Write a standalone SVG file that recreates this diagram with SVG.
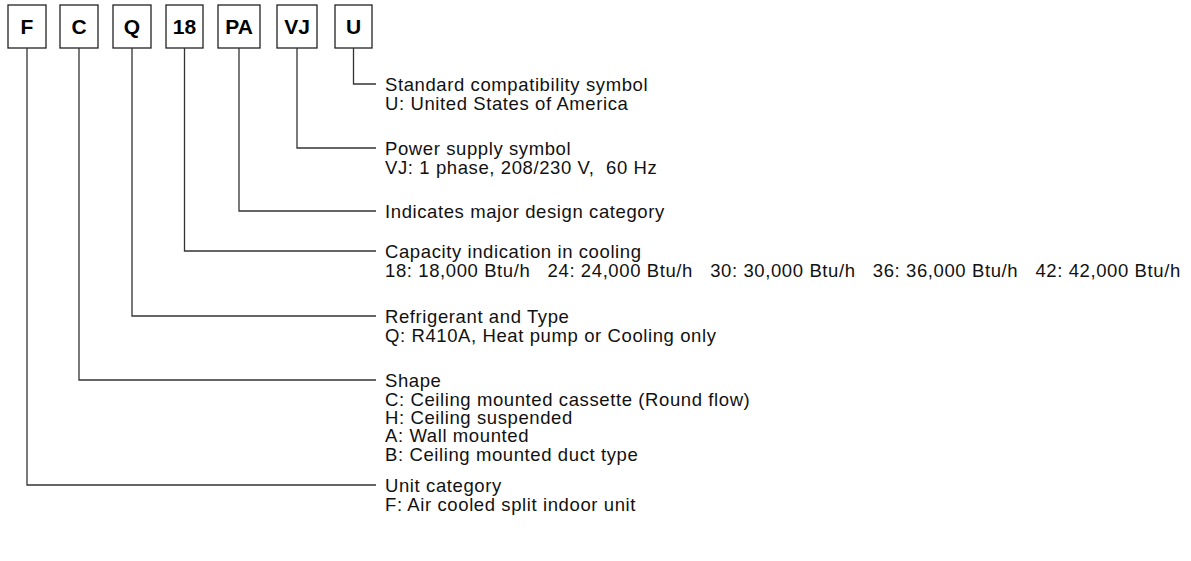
<svg xmlns="http://www.w3.org/2000/svg" width="1191" height="561" viewBox="0 0 1191 561">
<style>
.box{fill:#fff;stroke:#222;stroke-width:1.3}
.code{font-family:"Liberation Sans",Arial,sans-serif;font-weight:bold;font-size:21px;fill:#000;text-anchor:middle}
.t{font-family:"Liberation Sans",Arial,sans-serif;font-size:18.5px;letter-spacing:0.6px;fill:#111}
.c{fill:none;stroke:#333;stroke-width:1.3}
</style>
<rect width="1191" height="561" fill="#fff"/>
<g id="node-F"><rect class="box" x="8" y="5" width="38" height="43"/><text class="code" x="27" y="34">F</text></g>
<g id="node-C"><rect class="box" x="60" y="5" width="38" height="43"/><text class="code" x="79" y="34">C</text></g>
<g id="node-Q"><rect class="box" x="113" y="5" width="38" height="43"/><text class="code" x="132" y="34">Q</text></g>
<g id="node-18"><rect class="box" x="166" y="5" width="37" height="43"/><text class="code" x="184.5" y="34">18</text></g>
<g id="node-PA"><rect class="box" x="218" y="5" width="42" height="43"/><text class="code" x="239" y="34">PA</text></g>
<g id="node-VJ"><rect class="box" x="277" y="5" width="40" height="43"/><text class="code" x="297" y="34">VJ</text></g>
<g id="node-U"><rect class="box" x="335" y="5" width="37" height="43"/><text class="code" x="353.5" y="34">U</text></g>
<g id="connectors">
<path class="c" d="M353.5 48V84H376"/>
<path class="c" d="M297 48V148H376"/>
<path class="c" d="M239 48V211H376"/>
<path class="c" d="M184.5 48V251H376"/>
<path class="c" d="M132 48V316H376"/>
<path class="c" d="M79 48V380H376"/>
<path class="c" d="M27 48V485H376"/>
</g>
<g id="label-U"><text class="t" x="385" y="91">Standard compatibility symbol</text><text class="t" x="385" y="110">U: United States of America</text></g>
<g id="label-VJ"><text class="t" x="385" y="155">Power supply symbol</text><text class="t" x="385" y="174" xml:space="preserve">VJ: 1 phase, 208/230 V,  60 Hz</text></g>
<g id="label-PA"><text class="t" x="385" y="218">Indicates major design category</text></g>
<g id="label-18"><text class="t" x="385" y="258">Capacity indication in cooling</text><text class="t" x="385" y="277" xml:space="preserve">18: 18,000 Btu/h   24: 24,000 Btu/h   30: 30,000 Btu/h   36: 36,000 Btu/h   42: 42,000 Btu/h</text></g>
<g id="label-Q"><text class="t" x="385" y="323">Refrigerant and Type</text><text class="t" x="385" y="342">Q: R410A, Heat pump or Cooling only</text></g>
<g id="label-C"><text class="t" x="385" y="387">Shape</text><text class="t" x="385" y="406">C: Ceiling mounted cassette (Round flow)</text><text class="t" x="385" y="424">H: Ceiling suspended</text><text class="t" x="385" y="442">A: Wall mounted</text><text class="t" x="385" y="461">B: Ceiling mounted duct type</text></g>
<g id="label-F"><text class="t" x="385" y="492">Unit category</text><text class="t" x="385" y="511">F: Air cooled split indoor unit</text></g>
</svg>
